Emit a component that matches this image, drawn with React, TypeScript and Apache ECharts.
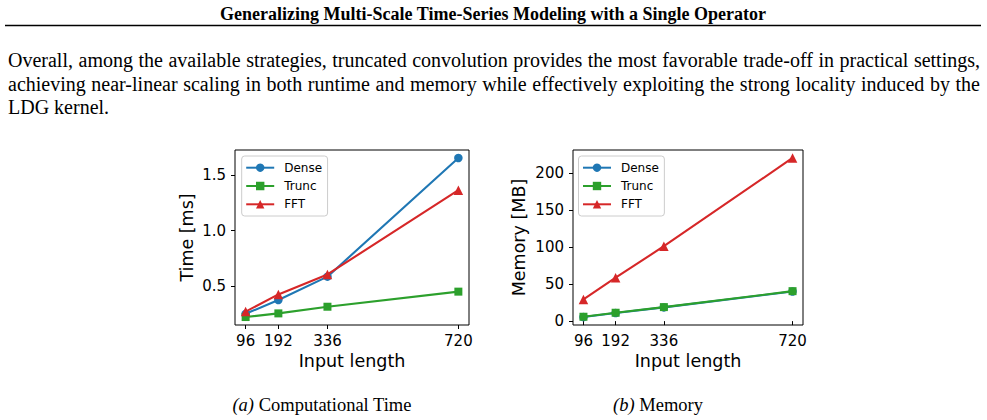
import React, { useEffect, useRef } from 'react';
import * as echarts from 'echarts';

// Input sequence lengths on the x axis
const inputLengths = [96, 192, 336, 720];
const seriesNames = ['Dense', 'Trunc', 'FFT'];

// Runtime per strategy [ms]
const timeDense = [0.25, 0.375, 0.585, 1.655];
const timeTrunc = [0.221, 0.254, 0.314, 0.45];
const timeFFT = [0.27, 0.425, 0.605, 1.365];

// Memory per strategy [MB]
const memDense = [5.5, 10.9, 18.5, 40.0];
const memTrunc = [5.9, 11.3, 18.9, 40.4];
const memFFT = [29.3, 58.5, 101, 220];

const timeTicks = [0.5, 1.0, 1.5];
const memTicks = [0, 50, 100, 150, 200];

const headerText = 'Generalizing Multi-Scale Time-Series Modeling with a Single Operator';
const paragraphLines = [
  'Overall, among the available strategies, truncated convolution provides the most favorable trade-off in practical settings,',
  'achieving near-linear scaling in both runtime and memory while effectively exploiting the strong locality induced by the',
  'LDG kernel.',
];
const captionA = ['(a)', 'Computational Time'];
const captionB = ['(b)', 'Memory'];

const COLORS = ['#1f77b4', '#2ca02c', '#d62728'];
const SYMBOLS = ['circle', 'rect', 'triangle'];
const SYMBOL_SIZES = [8.5, 8, 9.5];
const SANS = '"DejaVu Sans", sans-serif';
const SERIF = '"Liberation Serif", "Times New Roman", serif';

// matplotlib-style 5% auto margins around the data
function paddedRange(values: number[]): [number, number] {
  const lo = Math.min(...values);
  const hi = Math.max(...values);
  const m = (hi - lo) * 0.05;
  return [lo - m, hi + m];
}

// Lay out a justified line of text, one text element per word
function justifiedWords(line: string, size: number, x0: number, x1: number, y: number, justify: boolean) {
  const canvas = document.createElement('canvas');
  const ctx = canvas.getContext('2d')!;
  ctx.font = `${size}px ${SERIF}`;
  const words = line.split(' ');
  const widths = words.map((w) => ctx.measureText(w).width);
  const total = widths.reduce((a, b) => a + b, 0);
  const gap = justify && words.length > 1 ? (x1 - x0 - total) / (words.length - 1) : ctx.measureText(' ').width;
  let x = x0;
  return words.map((w, i) => {
    const el = {
      type: 'text',
      x,
      y,
      style: {
        text: w,
        fontSize: size,
        fontFamily: SERIF,
        fill: '#000',
        textVerticalAlign: 'middle',
        verticalAlign: 'middle',
      },
    };
    x += widths[i] + gap;
    return el;
  });
}

function makeSeries(values: number[][], gridIndex: number) {
  return values.map((vals, i) => ({
    name: seriesNames[i],
    type: 'line',
    xAxisIndex: gridIndex,
    yAxisIndex: gridIndex,
    data: inputLengths.map((x, j) => [x, vals[j]]),
    symbol: SYMBOLS[i],
    symbolSize: SYMBOL_SIZES[i],
    showSymbol: true,
    color: COLORS[i],
    lineStyle: { color: COLORS[i], width: 2.1 },
    itemStyle: { color: COLORS[i] },
    z: 2 + i,
  }));
}

function xAxisOf(gridIndex: number) {
  const [lo, hi] = paddedRange(inputLengths);
  return {
    type: 'value',
    gridIndex,
    min: lo,
    max: hi,
    name: 'Input length',
    nameLocation: 'middle',
    nameGap: 27,
    nameTextStyle: { fontFamily: SANS, fontSize: 17.5, color: '#000' },
    axisLine: { show: false },
    axisTick: { show: true, length: 4, lineStyle: { color: '#000', width: 1 }, customValues: inputLengths },
    axisLabel: {
      customValues: inputLengths,
      fontFamily: SANS,
      fontSize: 15,
      color: '#000',
      margin: 8,
    },
    splitLine: { show: false },
  };
}

function yAxisOf(gridIndex: number, values: number[], ticks: number[], name: string, gap: number, digits: number) {
  const [lo, hi] = paddedRange(values);
  return {
    type: 'value',
    gridIndex,
    min: lo,
    max: hi,
    name,
    nameLocation: 'middle',
    nameGap: gap,
    nameTextStyle: { fontFamily: SANS, fontSize: 17.5, color: '#000' },
    axisLine: { show: false },
    axisTick: { show: true, length: 4, lineStyle: { color: '#000', width: 1 }, customValues: ticks },
    axisLabel: {
      customValues: ticks,
      formatter: (v: number) => v.toFixed(digits),
      fontFamily: SANS,
      fontSize: 15,
      color: '#000',
      margin: 9,
    },
    splitLine: { show: false },
  };
}

function legendAt(left: number) {
  return {
    orient: 'vertical',
    left,
    top: 156,
    data: seriesNames,
    itemWidth: 28,
    itemHeight: 10.5,
    itemGap: 4.3,
    padding: [4.7, 5.5, 4.7, 3.5],
    backgroundColor: 'rgba(255,255,255,0.8)',
    borderColor: '#cccccc',
    borderWidth: 1,
    borderRadius: 3,
    selectedMode: false,
    textStyle: { fontFamily: SANS, fontSize: 12, color: '#000', lineHeight: 14, padding: [0, 0, 0, 5] },
  };
}

export default function App() {
  const ref = useRef<HTMLDivElement>(null);

  useEffect(() => {
    if (!ref.current) return;
    const chart = echarts.init(ref.current, undefined, { renderer: 'svg' });

    const paragraph = paragraphLines.flatMap((line, i) =>
      justifiedWords(line, 20, 8, 980, 60 + i * 23.5, i < paragraphLines.length - 1)
    );

    const caption = (parts: string[], cx: number) => ({
      type: 'text',
      x: cx,
      y: 405,
      style: {
        text: `{i|${parts[0]}} ${parts[1]}`,
        fontSize: 18.5,
        fontFamily: SERIF,
        fill: '#000',
        textAlign: 'center',
        align: 'center',
        textVerticalAlign: 'middle',
        verticalAlign: 'middle',
        rich: { i: { fontStyle: 'italic', fontSize: 18.5, fontFamily: SERIF, fill: '#000' } },
      },
    });

    chart.setOption({
      animation: false,
      backgroundColor: '#fff',
      grid: [
        { left: 235, top: 150, width: 234, height: 175, show: true, borderColor: '#000', borderWidth: 1, backgroundColor: 'transparent' },
        { left: 573, top: 150, width: 230, height: 175, show: true, borderColor: '#000', borderWidth: 1, backgroundColor: 'transparent' },
      ],
      xAxis: [xAxisOf(0), xAxisOf(1)],
      yAxis: [
        yAxisOf(0, [...timeDense, ...timeTrunc, ...timeFFT], timeTicks, 'Time [ms]', 39, 1),
        yAxisOf(1, [...memDense, ...memTrunc, ...memFFT], memTicks, 'Memory [MB]', 45, 0),
      ],
      legend: [legendAt(241.7), legendAt(578.5)],
      series: [
        ...makeSeries([timeDense, timeTrunc, timeFFT], 0),
        ...makeSeries([memDense, memTrunc, memFFT], 1),
      ],
      graphic: [
        {
          type: 'text',
          x: 493,
          y: 14,
          style: {
            text: headerText,
            fontSize: 18,
            fontWeight: 'bold',
            fontFamily: SERIF,
            fill: '#000',
            textAlign: 'center',
            align: 'center',
            textVerticalAlign: 'middle',
            verticalAlign: 'middle',
          },
        },
        {
          type: 'line',
          shape: { x1: 5, y1: 25.5, x2: 981, y2: 25.5 },
          style: { stroke: '#000', lineWidth: 1.6 },
        },
        ...paragraph,
        caption(captionA, 322),
        caption(captionB, 658),
      ],
    });

    return () => chart.dispose();
  }, []);

  return (
    <div
      ref={ref}
      style={{ position: 'fixed', left: 0, top: 0, width: 987, height: 420, background: '#fff' }}
    />
  );
}
